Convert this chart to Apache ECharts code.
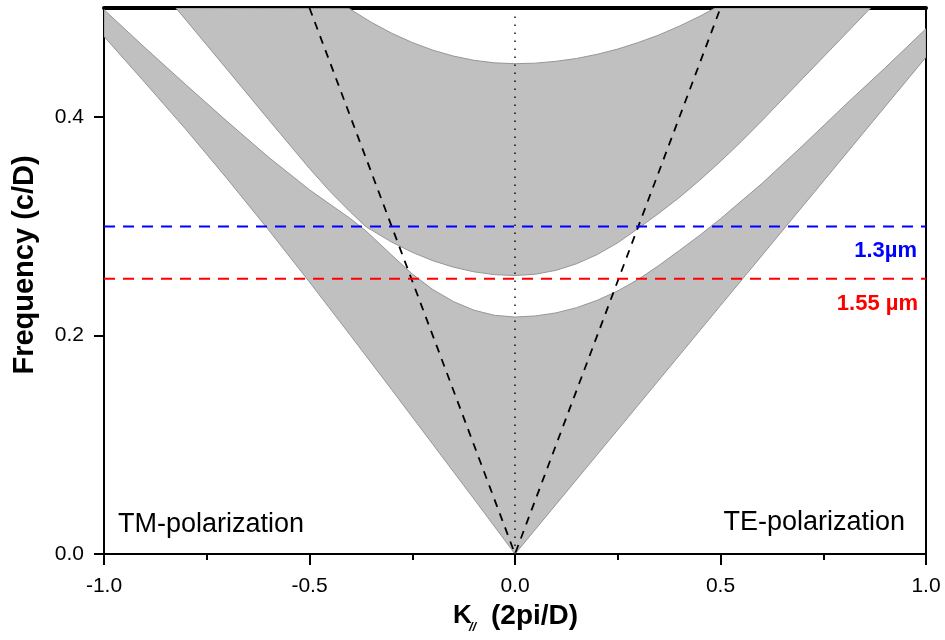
<!DOCTYPE html>
<html>
<head>
<meta charset="utf-8">
<script src="https://cdn.jsdelivr.net/npm/echarts@6/dist/echarts.min.js"></script>
<style>
  html, body { margin: 0; padding: 0; background: #fff; }
  #chart { width: 945px; height: 640px; }
</style>
</head>
<body>
<div id="chart"></div>
<script>
// Band edges of the photonic band diagram, [K_parallel (2pi/D), frequency (c/D)], left to right.
// Negative K = TM polarization, positive K = TE polarization.
const band1Lower = [[-1, 0.474], [-0.9, 0.4315], [-0.8, 0.3885], [-0.7, 0.3435], [-0.6, 0.297],
  [-0.5, 0.249], [-0.4, 0.2], [-0.3, 0.1505], [-0.2, 0.1005], [-0.1, 0.0505], [0, 0],
  [0.5, 0.2275], [1, 0.455]];
const band1Upper = [[-1, 0.4985], [-0.9, 0.4635], [-0.8, 0.4295], [-0.7, 0.396], [-0.6, 0.3635],
  [-0.5, 0.3335], [-0.4, 0.307], [-0.363, 0.296], [-0.3, 0.2737], [-0.25, 0.2564], [-0.2, 0.2422],
  [-0.15, 0.2312], [-0.1, 0.2233], [-0.05, 0.2186], [0, 0.217], [0.05, 0.218], [0.1, 0.2208],
  [0.15, 0.2256], [0.2, 0.2323], [0.25, 0.2409], [0.3, 0.2515], [0.35, 0.2642], [0.4, 0.278],
  [0.45, 0.292], [0.5, 0.307], [0.6, 0.339], [0.7, 0.374], [0.8, 0.41], [0.9, 0.445], [1, 0.481]];
const band2Lower = [[-0.825, 0.5], [-0.7, 0.4435], [-0.6, 0.398], [-0.5, 0.353], [-0.45, 0.332],
  [-0.4, 0.313], [-0.363, 0.2998], [-0.3, 0.2856], [-0.25, 0.2763], [-0.2, 0.2686], [-0.15, 0.2627],
  [-0.1, 0.2584], [-0.05, 0.2558], [0, 0.255], [0.05, 0.2562], [0.1, 0.2598], [0.15, 0.2658],
  [0.2, 0.2742], [0.25, 0.285], [0.3, 0.2982], [0.35, 0.312], [0.4, 0.3265], [0.45, 0.3425],
  [0.5, 0.3595], [0.55, 0.3775], [0.6, 0.3965], [0.7, 0.4355], [0.8, 0.4745], [0.865, 0.5]];
const band2Upper = [[-0.405, 0.4998], [-0.35, 0.487], [-0.3, 0.4769], [-0.25, 0.4684], [-0.2, 0.4614],
  [-0.15, 0.456], [-0.1, 0.4521], [-0.05, 0.4498], [0, 0.449], [0.05, 0.4495], [0.1, 0.4512],
  [0.15, 0.4538], [0.2, 0.4576], [0.25, 0.4624], [0.3, 0.4684], [0.35, 0.4753], [0.4, 0.4834],
  [0.45, 0.4925], [0.487, 0.5]];

// Light line (frequency = |K|), zone center marker and operating wavelengths.
const lightLine = [[-0.5, 0.5], [0, 0], [0.5, 0.5]];
const zoneCenter = [[0, 0], [0, 0.5]];
const freq1300 = [[-1, 0.3], [1, 0.3]];
const freq1550 = [[-1, 0.252], [1, 0.252]];

// Axis ticks
const xTicks = { min: -1, max: 1, step: 0.5 };
const yMajorTicks = [0, 0.2, 0.4];
const yMinorTicks = [0.1, 0.3];

const FONT = "'Liberation Sans', Arial, sans-serif";

function bandPolygon(lower, upper) {
  return lower.concat(upper.slice().reverse());
}

function bandSeries(points) {
  return {
    type: 'custom',
    coordinateSystem: 'cartesian2d',
    clip: true,
    silent: true,
    z: 1,
    data: [[0, 0]],
    renderItem: function (params, api) {
      return {
        type: 'polygon',
        shape: { points: points.map(function (p) { return api.coord(p); }) },
        style: { fill: '#c0c0c0', stroke: '#969696', lineWidth: 1 }
      };
    }
  };
}

function lineSeries(data, color, width, dash) {
  return {
    type: 'line',
    data: data,
    showSymbol: false,
    silent: true,
    clip: true,
    z: 3,
    lineStyle: { color: color, width: width, type: dash }
  };
}

const chart = echarts.init(document.getElementById('chart'), null, { renderer: 'canvas' });

const hiddenAxisParts = {
  axisTick: { show: false },
  axisLabel: { show: false },
  splitLine: { show: false }
};

chart.setOption({
  backgroundColor: '#ffffff',
  animation: false,
  grid: { left: 104, right: 19, top: 8, bottom: 86 },
  xAxis: [
    {
      type: 'value', position: 'bottom',
      min: xTicks.min, max: xTicks.max, interval: xTicks.step,
      axisLine: { onZero: false, lineStyle: { color: '#000', width: 2 } },
      axisTick: { inside: false, length: 11, lineStyle: { color: '#000', width: 2 } },
      minorTick: { show: true, splitNumber: 2, length: 6, lineStyle: { color: '#000', width: 2 } },
      splitLine: { show: false },
      minorSplitLine: { show: false },
      axisLabel: {
        margin: 22, color: '#000', fontSize: 21, fontFamily: FONT,
        showMinLabel: true, showMaxLabel: true,
        formatter: function (v) { return v.toFixed(1); }
      }
    },
    Object.assign({
      type: 'value', position: 'top', min: xTicks.min, max: xTicks.max,
      axisLine: { onZero: false, lineStyle: { color: '#000', width: 4 } }
    }, hiddenAxisParts)
  ],
  yAxis: [
    {
      type: 'value', position: 'left', min: 0, max: 0.5,
      axisLine: { onZero: false, lineStyle: { color: '#000', width: 2 } },
      axisTick: { inside: false, length: 10, customValues: yMajorTicks, lineStyle: { color: '#000', width: 2 } },
      splitLine: { show: false },
      axisLabel: {
        margin: 20, color: '#000', fontSize: 21, fontFamily: FONT,
        customValues: yMajorTicks,
        formatter: function (v) { return v.toFixed(1); }
      }
    },
    {
      type: 'value', position: 'left', min: 0, max: 0.5,
      axisLine: { show: false },
      axisTick: { inside: false, length: 5, customValues: yMinorTicks, lineStyle: { color: '#000', width: 2 } },
      axisLabel: { show: false },
      splitLine: { show: false }
    },
    Object.assign({
      type: 'value', position: 'right', min: 0, max: 0.5,
      axisLine: { onZero: false, lineStyle: { color: '#000', width: 2 } }
    }, hiddenAxisParts)
  ],
  series: [
    bandSeries(bandPolygon(band1Lower, band1Upper)),
    bandSeries(bandPolygon(band2Lower, band2Upper)),
    lineSeries(zoneCenter, '#000', 1.4, [1.5, 6.5]),
    lineSeries(lightLine, '#000', 1.8, [8, 7]),
    lineSeries(freq1300, '#0000ff', 2, [11, 8]),
    lineSeries(freq1550, '#ff0000', 2, [11, 8])
  ],
  graphic: [
    {
      type: 'text', x: 917, y: 250.5, z: 10,
      style: { text: '1.3µm', fill: '#0000ff', font: 'bold 22px ' + FONT,
        textAlign: 'right', textVerticalAlign: 'middle', align: 'right', verticalAlign: 'middle' }
    },
    {
      type: 'text', x: 918, y: 304, z: 10,
      style: { text: '1.55 µm', fill: '#ff0000', font: 'bold 22px ' + FONT,
        textAlign: 'right', textVerticalAlign: 'middle', align: 'right', verticalAlign: 'middle' }
    },
    {
      type: 'text', x: 118, y: 525, z: 10,
      style: { text: 'TM-polarization', fill: '#000', font: '27px ' + FONT,
        textAlign: 'left', textVerticalAlign: 'middle', align: 'left', verticalAlign: 'middle' }
    },
    {
      type: 'text', x: 905, y: 523, z: 10,
      style: { text: 'TE-polarization', fill: '#000', font: '27px ' + FONT,
        textAlign: 'right', textVerticalAlign: 'middle', align: 'right', verticalAlign: 'middle' }
    },
    {
      type: 'text', x: 25, y: 265, rotation: Math.PI / 2, z: 10,
      style: { text: 'Frequency (c/D)', fill: '#000', font: 'bold 29px ' + FONT,
        textAlign: 'center', textVerticalAlign: 'middle', align: 'center', verticalAlign: 'middle' }
    },
    {
      type: 'text', x: 453, y: 616, z: 10,
      style: { text: 'K', fill: '#000', font: 'bold 26px ' + FONT,
        textAlign: 'left', textVerticalAlign: 'middle', align: 'left', verticalAlign: 'middle' }
    },
    {
      type: 'text', x: 469, y: 627, z: 10,
      style: { text: '//', fill: '#000', font: 'italic bold 13px ' + FONT,
        textAlign: 'left', textVerticalAlign: 'middle', align: 'left', verticalAlign: 'middle' }
    },
    {
      type: 'text', x: 491, y: 616, z: 10,
      style: { text: '(2pi/D)', fill: '#000', font: 'bold 28px ' + FONT,
        textAlign: 'left', textVerticalAlign: 'middle', align: 'left', verticalAlign: 'middle' }
    }
  ]
});
</script>
</body>
</html>
